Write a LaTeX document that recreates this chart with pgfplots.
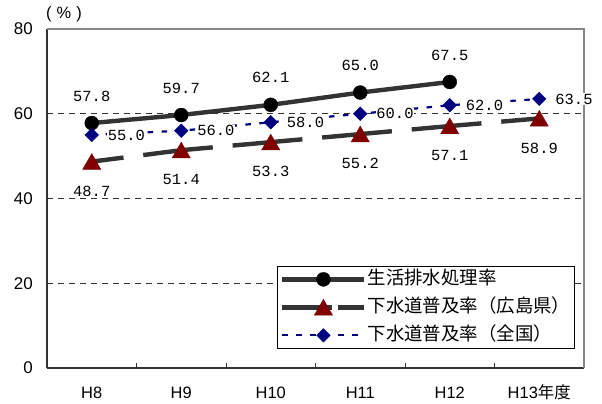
\documentclass[border=0pt]{standalone}
\usepackage{fontspec}
\setmainfont{Liberation Sans}
\newfontfamily\cjk{Noto Sans CJK JP}
\newfontfamily\mono{Liberation Mono}
\usepackage{pgfplots}
\pgfplotsset{compat=1.18}
\definecolor{dred}{RGB}{128,0,0}
\definecolor{navyc}{RGB}{0,0,128}
\definecolor{dgray}{RGB}{51,51,51}
\definecolor{bgray}{RGB}{134,134,134}
\begin{document}
\begin{tikzpicture}
\begin{axis}[
  name=ax,
  scale only axis, width=537bp, height=339bp,
  xmin=-0.5, xmax=5.5, ymin=0, ymax=80,
  clip=false,
  axis x line*=bottom, axis y line*=left,
  axis line style={dgray, line width=1.8bp},
  xtick={0,...,5},
  xticklabels={H8,H9,H10,H11,H12,H13{\cjk 年度}},
  minor xtick={0.5,1.5,2.5,3.5,4.5},
  ytick={0,20,...,80},
  major tick length=0pt, minor tick length=5bp,
  tick align=inside,
  minor x tick style={dgray, line width=1bp},
  ymajorgrids,
  grid style={dash pattern=on 6bp off 5bp, color=dgray, line width=0.8bp},
  xticklabel style={font=\fontsize{16.5}{18}\selectfont, anchor=base, yshift=-30bp, inner sep=0pt},
  yticklabel style={font=\fontsize{17}{18}\selectfont, anchor=east, inner sep=0pt, xshift=-14bp},
  /pgf/number format/assume math mode=true,
  legend style={
    at={(0.428,0.301)}, anchor=north west,
    draw=black, line width=0.8bp, fill=white,
    font=\cjk\fontsize{18.5}{20}\selectfont,
    inner xsep=3bp, inner ysep=2bp,
    row sep=6bp,
    nodes={inner sep=1bp, text height=15bp, text depth=5bp},
  },
  legend cell align=left,
  legend image code/.code={\draw[#1, mark repeat=2, mark phase=2] plot coordinates {(0bp,0bp)(41bp,0bp)(82bp,0bp)};},
]
\addplot[dgray, line width=4.4bp, mark=*, mark size=7bp,
  mark options={fill=black, draw=black, line width=0.4bp},
  nodes near coords={\pgfmathprintnumber[fixed,fixed zerofill,precision=1]{\pgfplotspointmeta}},
  nodes near coords align={anchor=center},
  every node near coord/.append style={font=\mono\fontsize{15.5}{18}\selectfont, text=black, yshift=27bp, fill=white, inner sep=0.5bp}]
coordinates {(0,57.8)(1,59.7)(2,62.1)(3,65.0)(4,67.5)};
\addlegendentry{生活排水処理率}
\addplot[dgray, line width=4.4bp, dash pattern=on 70bp off 19.9bp, dash phase=38bp,
  mark=triangle*, mark size=10.5bp,
  mark options={solid, fill=dred, draw=dred, line width=0.4bp, yshift=-2.5bp},
  legend image post style={dash pattern=on 50bp off 6bp, dash phase=0bp},
  nodes near coords={\pgfmathprintnumber[fixed,fixed zerofill,precision=1]{\pgfplotspointmeta}},
  nodes near coords align={anchor=center},
  every node near coord/.append style={font=\mono\fontsize{15.5}{18}\selectfont, text=black, yshift=-27bp, fill=white, inner sep=0.5bp}]
coordinates {(0,48.7)(1,51.4)(2,53.3)(3,55.2)(4,57.1)(5,58.9)};
\addlegendentry{下水道普及率（広島県）}
\addplot[navyc, line width=2.2bp, dash pattern=on 5.5bp off 8.5bp,
  mark=square*, mark size=4.8bp,
  mark options={solid, rotate=45, fill=navyc, draw=navyc, line width=0.4bp},
  nodes near coords={\pgfmathprintnumber[fixed,fixed zerofill,precision=1]{\pgfplotspointmeta}},
  nodes near coords align={anchor=west},
  every node near coord/.append style={font=\mono\fontsize{15.5}{18}\selectfont, text=black, xshift=15.5bp, fill=white, inner sep=0.5bp}]
coordinates {(0,55.0)(1,56.0)(2,58.0)(3,60.0)(4,62.0)(5,63.5)};
\addlegendentry{下水道普及率（全国）}
\draw[bgray, line width=2bp] (rel axis cs:0,1) -- (rel axis cs:1,1) -- (rel axis cs:1,0);
\end{axis}
\node[font=\fontsize{16.5}{18}\selectfont] at ([xshift=17bp,yshift=15bp]ax.north west) {(\hspace{5bp}\%\hspace{5bp})};
\pgfresetboundingbox
\path ([xshift=-47bp,yshift=-35bp]ax.south west) rectangle ([xshift=18bp,yshift=29bp]ax.north east);
\end{tikzpicture}
\end{document}
